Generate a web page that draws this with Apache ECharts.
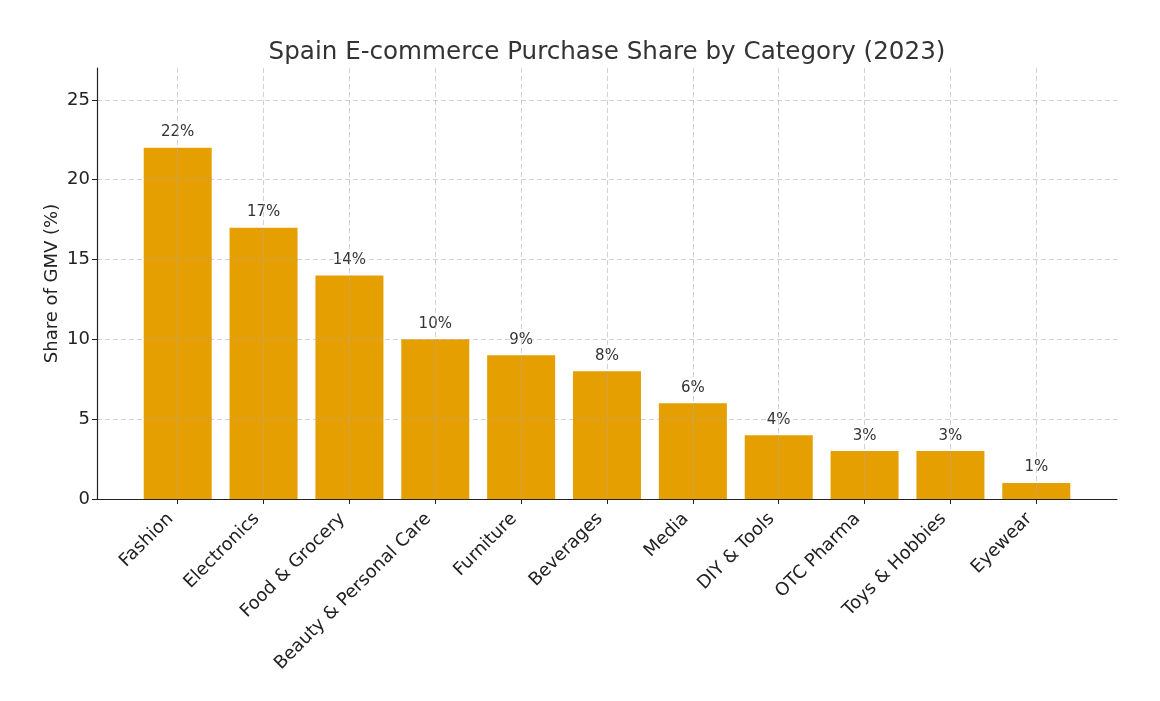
<!DOCTYPE html>
<html>
<head>
<meta charset="utf-8">
<script src="https://cdn.jsdelivr.net/npm/echarts@6/dist/echarts.min.js"></script>
<style>
html,body{margin:0;padding:0;background:#fff;}
#chart{width:1160px;height:701px;}
</style>
</head>
<body>
<div id="chart"></div>
<script>
const categories = ["Fashion","Electronics","Food & Grocery","Beauty & Personal Care","Furniture","Beverages","Media","DIY & Tools","OTC Pharma","Toys & Hobbies","Eyewear"];
const shares = [22,17,14,10,9,8,6,4,3,3,1];
const yTicks = [0,5,10,15,20,25];
const xPositions = categories.map((c,i)=>i);

const font = "DejaVu Sans, sans-serif";
const gridLine = {show:true, lineStyle:{color:'rgba(170,170,170,0.6)', type:[5,3], width:0.9}};

const chart = echarts.init(document.getElementById('chart'), null, {renderer:'canvas'});
chart.setOption({
  animation:false,
  backgroundColor:'#fff',
  title:{
    text:'Spain E-commerce Purchase Share by Category (2023)',
    left:602, top:35, textAlign:'center',
    textStyle:{fontFamily:font, fontSize:24.6, fontWeight:'normal', color:'#333'}
  },
  grid:{left:97, right:43, top:68, bottom:202, containLabel:false},
  xAxis:{
    type:'value', min:-0.94, max:10.94, z:3,
    axisLine:{show:true, onZero:false, lineStyle:{color:'#222', width:1.2}},
    axisTick:{show:true, customValues:xPositions, length:5, lineStyle:{color:'#222'}},
    axisLabel:{show:true, customValues:xPositions, rotate:45, margin:10, padding:[0,10,0,0],
      fontFamily:font, fontSize:18, color:'#222',
      formatter:v=>categories[Math.round(v)]},
    splitLine:gridLine
  },
  yAxis:{
    type:'value', min:0, max:27, z:3,
    name:'Share of GMV (%)', nameLocation:'middle', nameGap:36, nameMoveOverlap:false,
    nameTextStyle:{fontFamily:font, fontSize:18, color:'#222'},
    axisLine:{show:true, onZero:false, lineStyle:{color:'#222', width:1.2}},
    axisTick:{show:true, customValues:yTicks, length:5, lineStyle:{color:'#222'}},
    axisLabel:{customValues:yTicks, margin:7, fontFamily:font, fontSize:18, color:'#222'},
    splitLine:gridLine
  },
  series:[{
    type:'bar',
    barWidth:68,
    data:xPositions.map((x,i)=>[x, shares[i]]),
    itemStyle:{color:'#E69F00'},
    label:{show:true, position:'top', distance:8, fontFamily:font, fontSize:15, color:'#333',
      formatter:p=>p.value[1]+'%'}
  }]
});
</script>
</body>
</html>
